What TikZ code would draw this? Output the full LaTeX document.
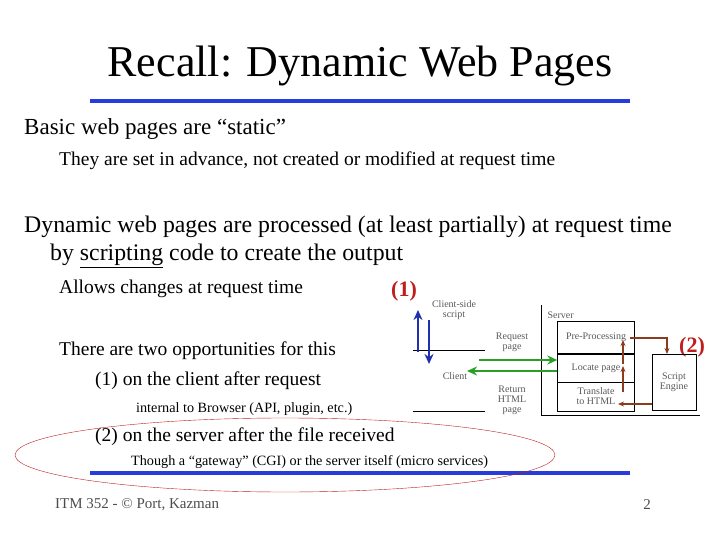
\documentclass[tikz,border=0pt]{standalone}
\usepackage{fontspec}
\setmainfont{Liberation Serif}
\usetikzlibrary{arrows.meta,positioning}
\definecolor{rulebl}{RGB}{40,60,220}
\definecolor{darkred}{RGB}{190,30,30}
\definecolor{brn}{RGB}{140,60,30}
\definecolor{grn}{RGB}{40,160,40}
\tikzset{
  txt/.style={anchor=west, inner sep=0pt, align=left},
  small/.style={font=\fontsize{10}{10}\selectfont, align=center, text=gray!70!black},
  stage/.style={draw, minimum width=77pt, align=center, font=\fontsize{10}{10}\selectfont, text=gray!70!black},
  flow/.style={-{Stealth[length=10pt,width=9pt]}, line width=2.2pt},
  bflow/.style={-{Stealth[length=6pt,width=5pt]}, line width=1.2pt, brn}
}
\begin{document}
\begin{tikzpicture}[x=1pt, y=-1pt]
    \useasboundingbox (0,0) rectangle (720,540);

    % Title and rules
    \node (title) at (360,66) {\fontsize{44}{44}\selectfont Recall: Dynamic Web Pages};
    \draw[rulebl, line width=4pt] (90,101) -- (630,101);
    \draw[rulebl, line width=4pt] (90,473) -- (630,473);

    % Text
    \node[txt] (t1) at (24,129) {\fontsize{23}{23}\selectfont Basic web pages are “static”};
    \node[txt] (t2) at (59,161) {\fontsize{19.5}{19.5}\selectfont They are set in advance, not created or modified at request time};
    \node[txt] (t3) at (24,227) {\fontsize{23.8}{24}\selectfont Dynamic web pages are processed (at least partially) at request time};
    \node[txt] (t4) at (50,256) {\fontsize{23.8}{24}\selectfont by \underline{scripting} code to create the output};
    \node[txt] (t5) at (59,289) {\fontsize{19.5}{19.5}\selectfont Allows changes at request time};
    \node[txt] (t6) at (59,351) {\fontsize{19.5}{19.5}\selectfont There are two opportunities for this};
    \node[txt] (t7) at (95,381) {\fontsize{19.5}{19.5}\selectfont (1) on the client after request};
    \node[txt] (t8) at (136,409) {\fontsize{14.2}{14.2}\selectfont internal to Browser (API, plugin, etc.)};
    \node[txt] (t9) at (95,437) {\fontsize{19.5}{19.5}\selectfont (2) on the server after the file received};
    \node[txt] (t10) at (131,462) {\fontsize{14.2}{14.2}\selectfont Though a “gateway” (CGI) or the server itself (micro services)};
    \node[txt, text=gray!60!black] (foot) at (55,505) {\fontsize{15}{15}\selectfont ITM 352 - © Port, Kazman};
    \node[text=gray!60!black] (pnum) at (647,505) {\fontsize{15}{15}\selectfont 2};
    \node[text=darkred] (one) at (404,291) {\fontsize{22}{22}\selectfont\bfseries (1)};
    \node[text=darkred] (two) at (692,347) {\fontsize{22}{22}\selectfont\bfseries (2)};
    \draw[darkred, thin] (285,455) ellipse (270 and 37);

    % Client side
    \coordinate (cl1) at (413,350);
    \coordinate (cr1) at (485,350);
    \coordinate (cl2) at (413,411);
    \coordinate (cr2) at (485,411);
    \draw (cl1) -- (cr1);
    \draw (cl2) -- (cr2);
    \coordinate (bu1) at (418,352);
    \coordinate (bu2) at (418,310);
    \coordinate (bd1) at (429,320);
    \coordinate (bd2) at (429,364);
    \draw[flow, rulebl!80!black] (bu1) -- (bu2);
    \draw[flow, rulebl!80!black] (bd1) -- (bd2);
    \node[small] (css) at (454,310) {Client-side\\script};
    \node[small] (client) at (455,376) {Client};
    \node[small] (req) at (512,342) {Request\\page};
    \node[small] (ret) at (512,400) {Return\\HTML\\page};

    % Server
    \coordinate (s1) at (541,305);
    \coordinate (s2) at (541,415);
    \coordinate (s3) at (700,415);
    \draw (s1) -- (s2) -- (s3);
    \node[small, anchor=west] (server) at (544,315) {Server};
    \node[stage, minimum height=32pt] (pre) at (596,337) {Pre-Processing};
    \node[stage, minimum height=28pt] (loc) at (596,368) {Locate page};
    \node[stage, minimum height=29pt] (tra) at (596,396.5) {Translate\\to HTML};
    \node[draw, minimum width=44pt, minimum height=56pt, font=\fontsize{10}{10}\selectfont, align=center, text=gray!70!black] (eng) at (674,382) {Script\\Engine};

    % Arrows
    \coordinate (g1) at (479,360);
    \coordinate (g2) at (467,371);
    \coordinate (b1) at (623,392);
    \coordinate (b2) at (623,366);
    \coordinate (b3) at (623,364);
    \coordinate (b4) at (623,340);
    \coordinate (b5) at (630,338);
    \coordinate (b6) at (618,404);
    \coordinate (b7) at (667,354);
    \draw[flow, grn] (g1) -- (loc.west |- g1);
    \draw[flow, grn] (loc.west |- g2) -- (g2);
    \draw[bflow] (b1) -- (b2);
    \draw[bflow] (b3) -- (b4);
    \draw[bflow] (b5) -| (b7);
    \draw[bflow] (eng.west |- b6) -- (b6);
\end{tikzpicture}
\end{document}
